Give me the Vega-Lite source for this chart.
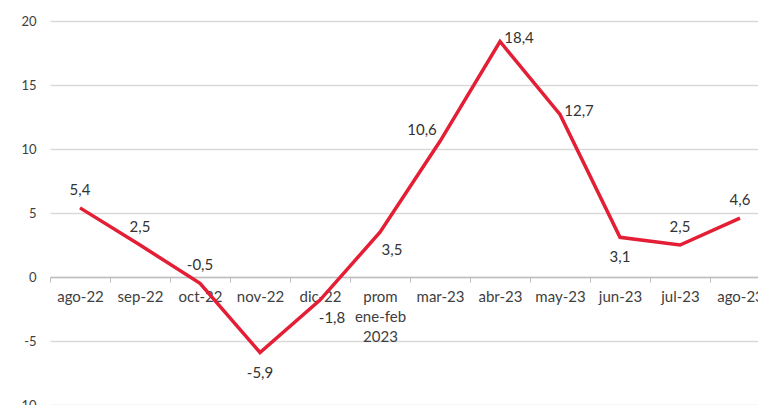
{
  "$schema": "https://vega.github.io/schema/vega-lite/v6.json",
  "autosize": {"type": "none"},
  "padding": {"left": 50, "top": 21, "right": 0, "bottom": 0},
  "width": 720,
  "height": 384,
  "background": "white",
  "config": {
    "view": {"stroke": null},
    "font": "Lato",
    "axis": {"labelFont": "Lato", "labelColor": "#404040"},
    "locale": {"number": {"decimal": ",", "thousands": ".", "grouping": [3], "currency": ["$", ""], "minus": "-"}}
  },
  "data": {
    "values": [
      {"mes": "ago-22", "valor": 5.4},
      {"mes": "sep-22", "valor": 2.5},
      {"mes": "oct-22", "valor": -0.5},
      {"mes": "nov-22", "valor": -5.9},
      {"mes": "dic-22", "valor": -1.8},
      {"mes": "prom ene-feb 2023", "valor": 3.5},
      {"mes": "mar-23", "valor": 10.6},
      {"mes": "abr-23", "valor": 18.4},
      {"mes": "may-23", "valor": 12.7},
      {"mes": "jun-23", "valor": 3.1},
      {"mes": "jul-23", "valor": 2.5},
      {"mes": "ago-23", "valor": 4.6}
    ]
  },
  "encoding": {
    "x": {
      "field": "mes", "type": "nominal", "sort": null,
      "scale": {"type": "band", "paddingInner": 0, "paddingOuter": 0},
      "axis": {
        "title": null, "orient": "bottom", "offset": -128,
        "labelAngle": 0, "labelFontSize": 15, "labelPadding": 7,
        "labelLineHeight": 20, "labelBaseline": "top",
        "tickBand": "extent", "tickSize": 5, "tickColor": "#BFBFBF",
        "domainColor": "#BFBFBF", "domainWidth": 1.5, "grid": false,
        "labelExpr": "datum.value == 'prom ene-feb 2023' ? ['prom', 'ene-feb', '2023'] : datum.value"
      }
    },
    "y": {
      "field": "valor", "type": "quantitative",
      "scale": {"domain": [-10, 20], "nice": false, "zero": false},
      "axis": {
        "title": null, "values": [-10, -5, 0, 5, 10, 15, 20], "format": "d",
        "domain": false, "ticks": false, "labelPadding": 14,
        "labelFontSize": 13, "gridColor": "#D9D9D9", "gridWidth": 1.5
      }
    }
  },
  "layer": [
    {"mark": {"type": "line", "color": "#E31E35", "strokeWidth": 3.5, "strokeJoin": "miter"}},
    {
      "transform": [{"filter": "indexof(['ago-22','sep-22','oct-22','jul-23','ago-23'], datum.mes) >= 0"}],
      "mark": {"type": "text", "dy": -18, "fontSize": 15, "color": "#333333"},
      "encoding": {"text": {"field": "valor", "type": "quantitative", "format": ".1f"}}
    },
    {
      "transform": [{"filter": "indexof(['nov-22','jun-23'], datum.mes) >= 0"}],
      "mark": {"type": "text", "dy": 20, "fontSize": 15, "color": "#333333"},
      "encoding": {"text": {"field": "valor", "type": "quantitative", "format": ".1f"}}
    },
    {
      "transform": [{"filter": "indexof(['dic-22','prom ene-feb 2023'], datum.mes) >= 0"}],
      "mark": {"type": "text", "dx": 12, "dy": 18, "fontSize": 15, "color": "#333333"},
      "encoding": {"text": {"field": "valor", "type": "quantitative", "format": ".1f"}}
    },
    {
      "transform": [{"filter": "datum.mes == 'mar-23'"}],
      "mark": {"type": "text", "dx": -18, "dy": -11, "fontSize": 15, "color": "#333333"},
      "encoding": {"text": {"field": "valor", "type": "quantitative", "format": ".1f"}}
    },
    {
      "transform": [{"filter": "indexof(['abr-23','may-23'], datum.mes) >= 0"}],
      "mark": {"type": "text", "dx": 19, "dy": -3, "fontSize": 15, "color": "#333333"},
      "encoding": {"text": {"field": "valor", "type": "quantitative", "format": ".1f"}}
    }
  ]
}
